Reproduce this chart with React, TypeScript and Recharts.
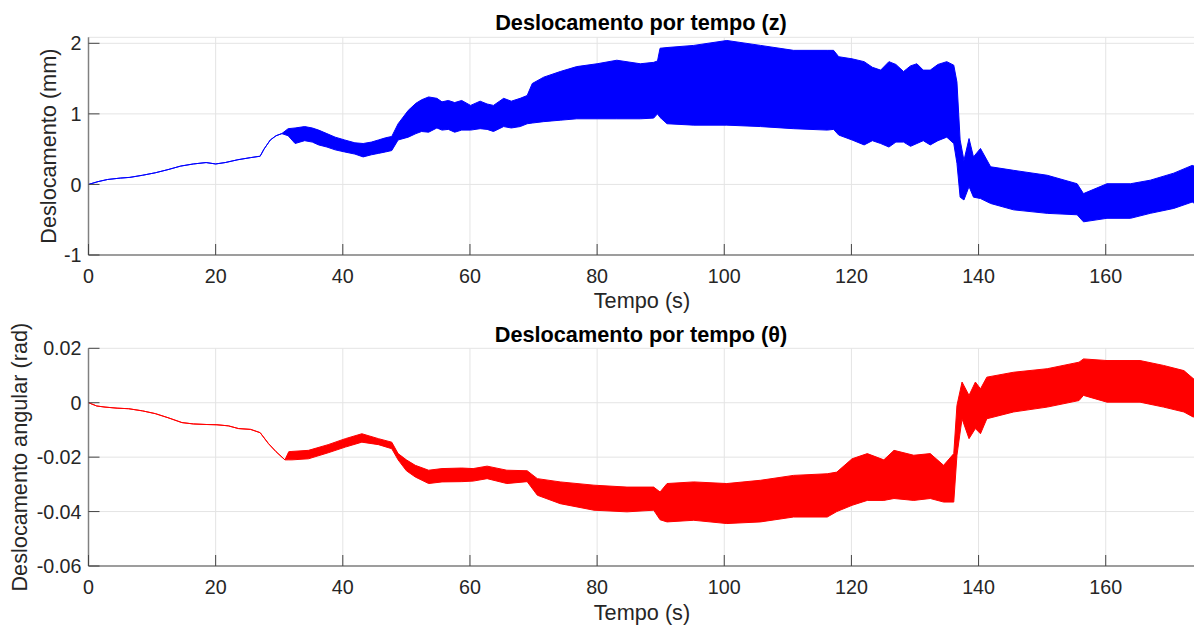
import { ComposedChart, Area, XAxis, YAxis, CartesianGrid, Label } from "recharts";

// tempo (s) e envelope (mín / máx) do deslocamento z (mm)
const zTime = [
  0, 1.5, 3, 5, 6.5, 8.5, 10.5, 12.5, 14.5, 16.5, 18.5, 20, 21.5, 23.5, 25.5, 27, 27.6, 28.6, 29.5, 30.4,
  31.4, 32.5, 34, 35.2, 36.2, 37.5, 38.8, 40.3, 41.9, 43.2, 44.5, 45.6, 46.7, 47.7, 48.7, 50.3, 51.5,
  52.4, 53.5, 54.8, 55.6, 56.6, 57.6, 58.7, 60.1, 61.6, 62.7, 63.7, 65.3, 66.5, 67.9, 69, 69.8, 71.6,
  74.2, 76.8, 80, 83.1, 86.8, 88.9, 89.5, 89.9, 91, 95.2, 100.4, 105.7, 110.9, 116.2, 117.2, 118,
  120.1, 122, 123.3, 124.6, 125.9, 127, 128.2, 129.3, 130.3, 131.3, 132.4, 133.6, 135, 136.1, 136.6,
  137.1, 137.7, 138.5, 139.2, 140.3, 141.9, 145.5, 150.8, 155.5, 156.5, 160.2, 163.9, 167, 170.7,
  173.6, 174.2,
];
const zHigh = [
  0, 0.04, 0.07, 0.09, 0.1, 0.13, 0.165, 0.21, 0.26, 0.29, 0.31, 0.29, 0.31, 0.35, 0.38, 0.4, 0.5, 0.63, 0.69, 0.72,
  0.79, 0.8, 0.82, 0.8, 0.77, 0.72, 0.67, 0.63, 0.59, 0.58, 0.6, 0.63, 0.66, 0.68, 0.86, 1.05, 1.15,
  1.2, 1.24, 1.22, 1.17, 1.19, 1.16, 1.19, 1.12, 1.18, 1.14, 1.12, 1.22, 1.18, 1.22, 1.26, 1.43, 1.52,
  1.6, 1.67, 1.71, 1.76, 1.71, 1.73, 1.75, 1.93, 1.94, 1.97, 2.04, 1.97, 1.9, 1.9, 1.9, 1.81,
  1.78, 1.74, 1.66, 1.62, 1.74, 1.7, 1.6, 1.68, 1.71, 1.62, 1.62, 1.7, 1.74, 1.69, 1.45,
  0.63, 0.34, 0.65, 0.39, 0.51, 0.25, 0.2, 0.13, 0.01, -0.13, 0.01, 0.01, 0.06, 0.16,
  0.27, 0.25,
];
const zLow = [
  0, 0.04, 0.07, 0.09, 0.1, 0.13, 0.165, 0.21, 0.26, 0.29, 0.31, 0.29, 0.31, 0.35, 0.38, 0.4, 0.5, 0.63, 0.69, 0.72,
  0.69, 0.58, 0.62, 0.6, 0.56, 0.53, 0.49, 0.46, 0.43, 0.39, 0.42, 0.44, 0.46, 0.48, 0.63, 0.67, 0.72,
  0.75, 0.74, 0.8, 0.77, 0.78, 0.74, 0.77, 0.77, 0.79, 0.78, 0.75, 0.82, 0.8, 0.82, 0.86, 0.87, 0.89,
  0.91, 0.93, 0.93, 0.93, 0.93, 0.94, 1.0, 0.95, 0.86, 0.84, 0.84, 0.82, 0.79, 0.77, 0.78, 0.7,
  0.63, 0.56, 0.62, 0.58, 0.53, 0.6, 0.6, 0.54, 0.58, 0.62, 0.56, 0.62, 0.67, 0.58, 0.3,
  -0.18, -0.22, -0.03, -0.18, -0.2, -0.27, -0.36, -0.41, -0.43, -0.53, -0.48, -0.48, -0.41, -0.34,
  -0.25, -0.28,
];

// tempo (s) e envelope do deslocamento angular θ (rad)
const thetaTime = [
  0, 1.3, 2.6, 4.5, 6.3, 8.5, 10.5, 12.5, 14.7, 16.5, 18.5, 20.2, 22, 23.6, 25.5, 27, 28.3, 29.5, 30.9,
  31.5, 32, 34.6, 37.7, 40.4, 43, 45.6, 47.7, 48.7, 50, 51.4, 53.5, 55.6, 58.7, 60.5, 62.7, 65.8, 69,
  70.6, 74.2, 79.5, 84.7, 88.9, 89.9, 91, 95.2, 100.4, 105.7, 110.9, 116.2, 117.7, 120.1, 122.5, 125.1,
  126.7, 129.8, 132.4, 134.5, 136.1, 136.6, 137.4, 138.5, 139.5, 140.3, 141.3, 145.5, 150.8, 155.8,
  156.5, 160.2, 165.4, 169.1, 172.3, 173.8, 174.2,
];
const thetaHigh = [
  0, -0.0012, -0.0016, -0.002, -0.0022, -0.003, -0.004, -0.0055, -0.0073, -0.0078, -0.008, -0.0081, -0.0085, -0.0095, -0.0098, -0.011, -0.015, -0.018, -0.021,
  -0.018, -0.0179, -0.0175, -0.0154, -0.0132, -0.0114, -0.0132, -0.0145, -0.0187, -0.021, -0.023, -0.0248, -0.0242, -0.024, -0.0242, -0.0233, -0.0248, -0.025,
  -0.0279, -0.0291, -0.0303, -0.031, -0.031, -0.0328, -0.0297, -0.0291, -0.0297, -0.0285, -0.0267, -0.0261, -0.0255, -0.0206, -0.0187, -0.021,
  -0.0175, -0.0193, -0.0187, -0.023, -0.0187, -0.001, 0.0076, 0.0027, 0.0076, 0.0051, 0.0094, 0.0112, 0.0125, 0.0149,
  0.0161, 0.0155, 0.0155, 0.0137, 0.0118, 0.0088, 0.0095,
];
const thetaLow = [
  0, -0.0012, -0.0016, -0.002, -0.0022, -0.003, -0.004, -0.0055, -0.0073, -0.0078, -0.008, -0.0081, -0.0085, -0.0095, -0.0098, -0.011, -0.015, -0.018, -0.021,
  -0.021, -0.021, -0.0206, -0.0184, -0.0163, -0.0145, -0.0154, -0.0169, -0.021, -0.025, -0.0273, -0.0297, -0.0291, -0.029, -0.0288, -0.0279, -0.0297, -0.029,
  -0.034, -0.0371, -0.0395, -0.0401, -0.0395, -0.043, -0.0438, -0.0432, -0.0444, -0.0438, -0.042, -0.042, -0.04, -0.0377, -0.0359, -0.0359,
  -0.0352, -0.0359, -0.0352, -0.0365, -0.0365, -0.0193, -0.0059, -0.0132, -0.0095, -0.0114, -0.0059, -0.0034, -0.0016, 0.0008,
  0.0027, 0.0002, 0.0002, -0.0016, -0.0034, -0.0053, -0.004,
];

const xTicks = [0, 20, 40, 60, 80, 100, 120, 140, 160];
const zTicks = [-1, 0, 1, 2];
const thetaTicks = [-0.06, -0.04, -0.02, 0, 0.02];

const zData = zTime.map((t, i) => ({ t, v: [zLow[i], zHigh[i]] }));
const thetaData = thetaTime.map((t, i) => ({ t, v: [thetaLow[i], thetaHigh[i]] }));

const FONT = '"Liberation Sans", Arial, Helvetica, sans-serif';
const TEXT = "#262626";
const BOX = "#808080";
const TICK = "#444";
const TICK_LEN = 11;

const BottomTick = ({ x, y, payload }: any) => (
  <g>
    <line x1={x} x2={x} y1={y} y2={y - TICK_LEN} stroke={TICK} strokeWidth={1} />
    <text x={x} y={y + 27.5} textAnchor="middle" fontSize={19.7} fontFamily={FONT} fill={TEXT}>
      {payload.value}
    </text>
  </g>
);

const TopTick = ({ x, y }: any) => (
  <line x1={x} x2={x} y1={y} y2={y + TICK_LEN} stroke={TICK} strokeWidth={1} />
);

const LeftTick = ({ x, y, payload }: any) => (
  <g>
    <line x1={x} x2={x + TICK_LEN} y1={y} y2={y} stroke={TICK} strokeWidth={1} />
    <text x={x - 7} y={y} dy="0.36em" textAnchor="end" fontSize={19.7} fontFamily={FONT} fill={TEXT}>
      {payload.value}
    </text>
  </g>
);

const RightTick = ({ x, y }: any) => (
  <line x1={x} x2={x - TICK_LEN} y1={y} y2={y} stroke={TICK} strokeWidth={1} />
);

function Panel({ data, yDomain, yTicks, color, top, height, marginTop, xAxisHeight, yLabel, yLabelX }: any) {
  return (
    <div style={{ position: "absolute", left: 0, top }}>
      <ComposedChart
        width={1196}
        height={height}
        data={data}
        margin={{ top: marginTop, right: 0, bottom: 0, left: 0 }}
      >
        <CartesianGrid stroke="#e4e4e4" strokeWidth={1} />
        <XAxis
          dataKey="t"
          type="number"
          domain={[0, 174.2]}
          ticks={xTicks}
          allowDataOverflow
          height={xAxisHeight}
          tickSize={0}
          tickMargin={0}
          tickLine={false}
          tick={<BottomTick />}
          axisLine={{ stroke: BOX, strokeWidth: 1.5 }}
        />
        <XAxis
          xAxisId="top"
          orientation="top"
          dataKey="t"
          type="number"
          domain={[0, 174.2]}
          ticks={xTicks}
          allowDataOverflow
          height={0}
          tickSize={0}
          tickMargin={0}
          tickLine={false}
          tick={<TopTick />}
          axisLine={{ stroke: BOX, strokeWidth: 1.5 }}
        />
        <YAxis
          type="number"
          domain={yDomain}
          ticks={yTicks}
          allowDataOverflow
          width={88.5}
          tickSize={0}
          tickMargin={0}
          tickLine={false}
          tick={<LeftTick />}
          axisLine={{ stroke: BOX, strokeWidth: 1.5 }}
        >
          <Label
            content={({ viewBox }: any) => {
              const cy = viewBox.y + viewBox.height / 2;
              return (
                <text
                  transform={`translate(${yLabelX},${cy}) rotate(-90)`}
                  textAnchor="middle"
                  fontSize={21.7}
                  fontFamily={FONT}
                  fill={TEXT}
                >
                  {yLabel}
                </text>
              );
            }}
          />
        </YAxis>
        <YAxis
          yAxisId="right"
          orientation="right"
          type="number"
          domain={yDomain}
          ticks={yTicks}
          allowDataOverflow
          width={0}
          tickSize={0}
          tickMargin={0}
          tickLine={false}
          tick={<RightTick />}
          axisLine={{ stroke: BOX, strokeWidth: 1.5 }}
        />
        <Area
          type="linear"
          dataKey="v"
          stroke={color}
          strokeWidth={1}
          fill={color}
          fillOpacity={1}
          dot={false}
          activeDot={false}
          isAnimationActive={false}
        />
      </ComposedChart>
    </div>
  );
}

export default function App() {
  return (
    <div
      style={{
        position: "absolute",
        left: 0,
        top: 0,
        width: 1194,
        height: 628,
        overflow: "hidden",
        background: "#fff",
        fontFamily: FONT,
      }}
    >
      <Panel
        data={zData}
        yDomain={[-1, 2.085]}
        yTicks={zTicks}
        color="#0000ff"
        top={0}
        height={310}
        marginTop={37.3}
        xAxisHeight={55}
        yLabel="Deslocamento (mm)"
        yLabelX={55.5}
      />
      <Panel
        data={thetaData}
        yDomain={[-0.06, 0.02]}
        yTicks={thetaTicks}
        color="#ff0000"
        top={310}
        height={318}
        marginTop={38.3}
        xAxisHeight={62}
        yLabel="Deslocamento angular (rad)"
        yLabelX={27}
      />
      <svg
        width={1194}
        height={628}
        style={{ position: "absolute", left: 0, top: 0, pointerEvents: "none" }}
      >
        <g fontFamily={FONT} fill={TEXT} fontSize={21.7}>
          <text x={641} y={29.5} textAnchor="middle" fontWeight="bold" fill="#000">
            Deslocamento por tempo (z)
          </text>
          <text x={641} y={341.5} textAnchor="middle" fontWeight="bold" fill="#000">
            Deslocamento por tempo (θ)
          </text>
          <text x={642} y={308} textAnchor="middle">Tempo (s)</text>
          <text x={642} y={620} textAnchor="middle">Tempo (s)</text>
        </g>
      </svg>
    </div>
  );
}
